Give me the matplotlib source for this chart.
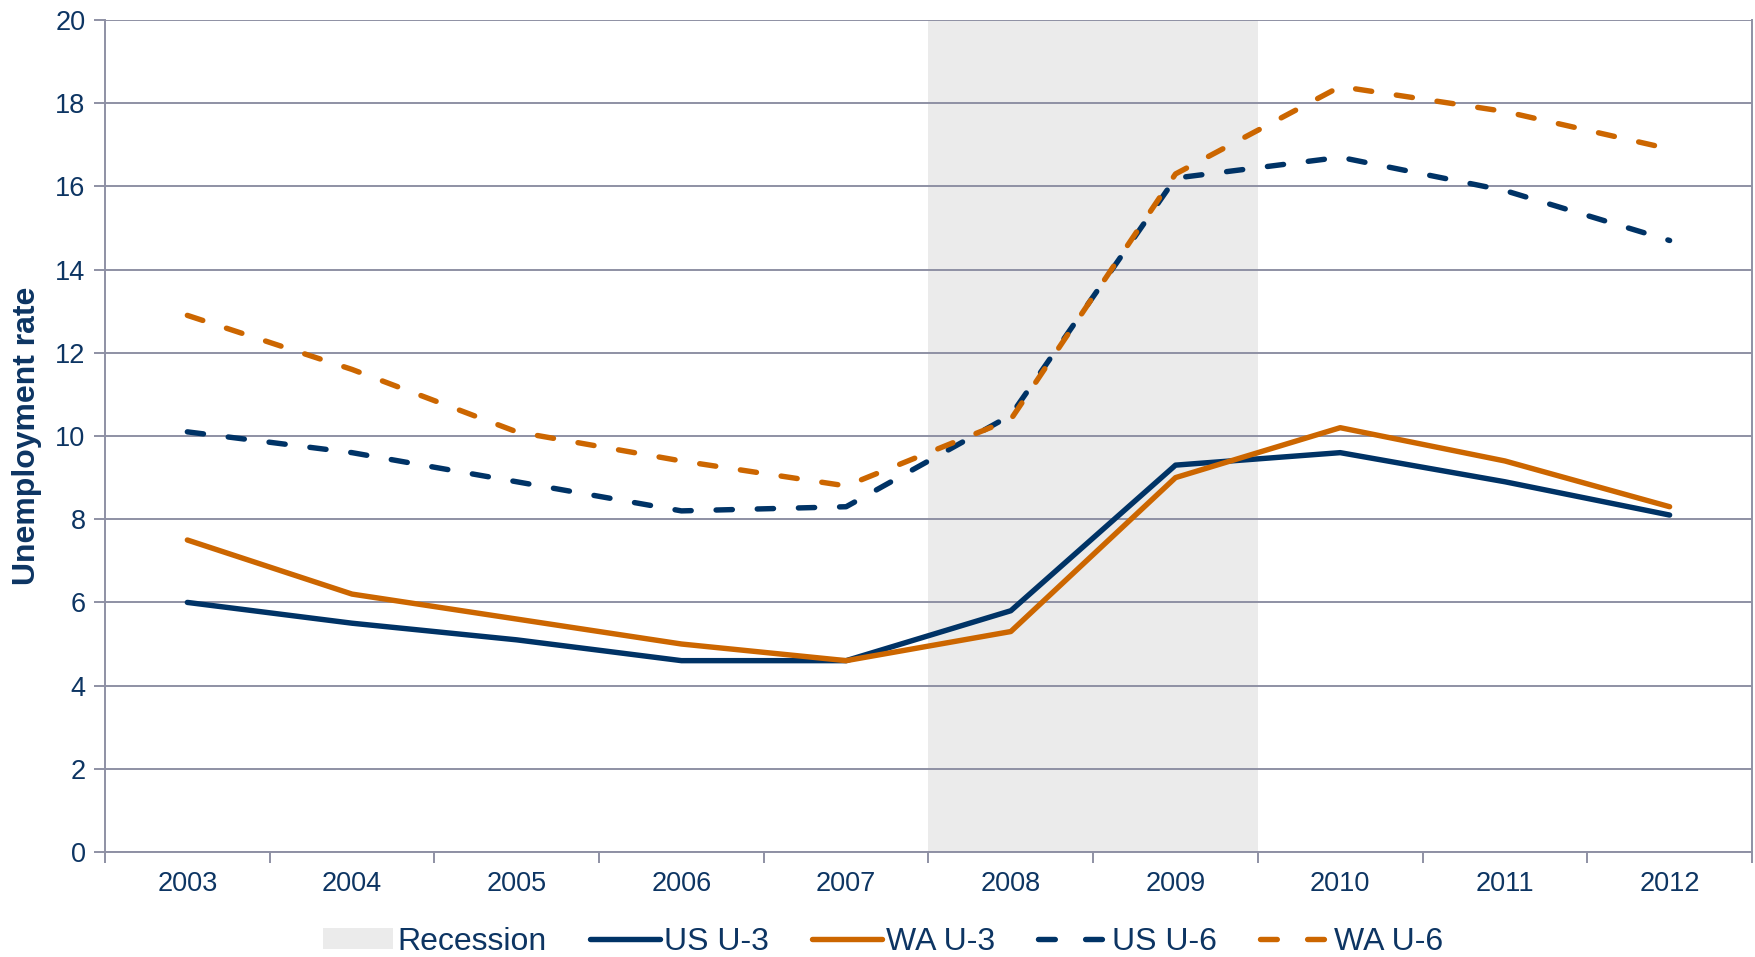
import matplotlib
matplotlib.use("Agg")
import matplotlib.pyplot as plt
from matplotlib.patches import Patch
from matplotlib.lines import Line2D
import numpy as np

plt.rcParams["font.family"] = ["Liberation Sans", "DejaVu Sans"]

# data
YEARS = ["2003", "2004", "2005", "2006", "2007", "2008", "2009", "2010", "2011", "2012"]
US_U3 = [6.0, 5.5, 5.1, 4.6, 4.6, 5.8, 9.3, 9.6, 8.9, 8.1]
WA_U3 = [7.5, 6.2, 5.6, 5.0, 4.6, 5.3, 9.0, 10.2, 9.4, 8.3]
US_U6 = [10.1, 9.6, 8.9, 8.2, 8.3, 10.5, 16.2, 16.7, 15.9, 14.7]
WA_U6 = [12.9, 11.6, 10.1, 9.4, 8.8, 10.4, 16.3, 18.4, 17.8, 16.9]
RECESSION = ("2008", "2009")  # shaded years

NAVY = "#003366"
ORANGE = "#cc6600"
GRID = "#8e90a4"
BAND = "#ebebeb"
TXT = "#0d3563"

fig = plt.figure(figsize=(17.56, 9.57), dpi=100)
ax = fig.add_axes([0.0598, 0.1097, 0.9379, 0.8694])

x = np.arange(len(YEARS))
i0, i1 = YEARS.index(RECESSION[0]), YEARS.index(RECESSION[1])
ax.axvspan(i0 - 0.5, i1 + 0.5, color=BAND, zorder=0, lw=0)

lw = 3.9
dash = (3.0, 4.6)
ax.plot(x, US_U3, color=NAVY, lw=lw, zorder=3, solid_capstyle="round")
ax.plot(x, WA_U3, color=ORANGE, lw=lw, zorder=3, solid_capstyle="round")
ax.plot(x, US_U6, color=NAVY, lw=lw, zorder=3, dashes=dash, dash_capstyle="round")
ax.plot(x, WA_U6, color=ORANGE, lw=lw, zorder=4, dashes=dash, dash_capstyle="round")

ax.set_xlim(-0.5, len(YEARS) - 0.5)
ax.set_ylim(0, 20)
ax.set_yticks(range(0, 21, 2))
ax.yaxis.grid(True, color=GRID, lw=1.4, zorder=1)
ax.set_axisbelow(True)

ax.set_xticks(x)
ax.set_xticklabels(YEARS)
ax.set_xticks(np.arange(-0.5, len(YEARS)), minor=True)
ax.tick_params(axis="x", which="major", length=0, pad=14, labelsize=19.5, labelcolor=TXT)
ax.tick_params(axis="x", which="minor", length=8, width=1.4, color=GRID)
ax.tick_params(axis="y", length=8, width=1.4, color=GRID, labelsize=19.5, labelcolor=TXT, pad=6)

for s in ax.spines.values():
    s.set_color(GRID)
    s.set_linewidth(1.4)
ax.spines["top"].set_visible(False)

ax.set_ylabel("Unemployment rate", fontsize=23, fontweight="bold", color=TXT)
ax.yaxis.set_label_coords(-0.0385, 0.5)

leg_dash = (3.1, 5.6)
handles = [
    Patch(facecolor=BAND, edgecolor="none"),
    Line2D([], [], color=NAVY, lw=lw, solid_capstyle="round"),
    Line2D([], [], color=ORANGE, lw=lw, solid_capstyle="round"),
    Line2D([], [], color=NAVY, lw=lw, dashes=leg_dash, dash_capstyle="round"),
    Line2D([], [], color=ORANGE, lw=lw, dashes=leg_dash, dash_capstyle="round"),
]
labels = ["Recession", "US U-3", "WA U-3", "US U-6", "WA U-6"]
leg = fig.legend(handles, labels, loc="center", bbox_to_anchor=(0.503, 0.016), ncol=5,
                 frameon=False, fontsize=23, handlelength=2.2, handleheight=0.6,
                 handletextpad=0.12, columnspacing=1.35, borderpad=0)
for t in leg.get_texts():
    t.set_color(TXT)

fig.savefig("out.png", dpi=100, facecolor="white")
